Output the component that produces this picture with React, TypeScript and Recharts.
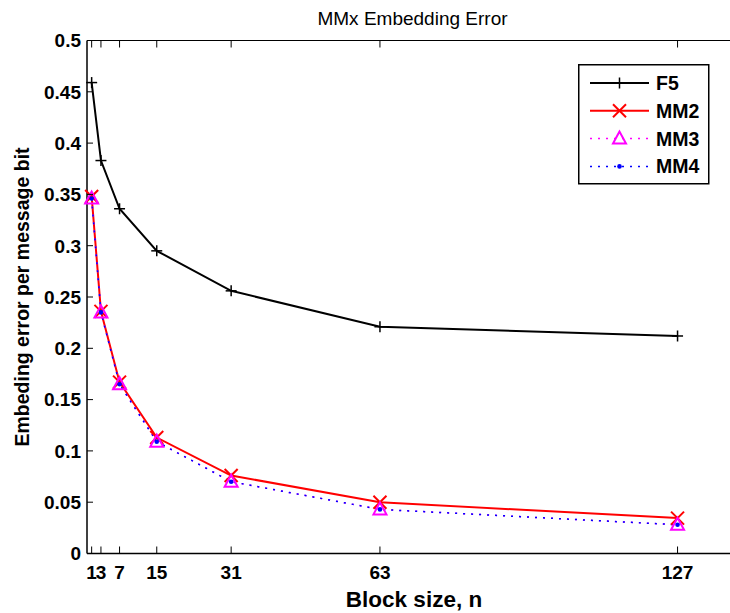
import { LineChart, Line, XAxis, YAxis, Legend } from 'recharts';

// block sizes n and embedding error per message bit for each scheme
const blockSizes = [1, 3, 7, 15, 31, 63, 127];
const f5 = [0.459, 0.383, 0.336, 0.295, 0.256, 0.221, 0.212];
const mm2 = [0.348, 0.236, 0.167, 0.113, 0.076, 0.050, 0.0345];
const mm3 = [0.346, 0.235, 0.165, 0.109, 0.070, 0.043, 0.028];
const mm4 = [0.346, 0.235, 0.165, 0.109, 0.070, 0.043, 0.028];

const xTicks = [1, 3, 7, 15, 31, 63, 127];
const yTicks = [0, 0.05, 0.1, 0.15, 0.2, 0.25, 0.3, 0.35, 0.4, 0.45, 0.5];

const data = blockSizes.map((n, i) => ({ n, f5: f5[i], mm2: mm2[i], mm3: mm3[i], mm4: mm4[i] }));

const FONT = '"Liberation Sans", Arial, Helvetica, sans-serif';

const PlusMark = ({ cx, cy, r = 5.5 }: any) => (
  <g stroke="#000" strokeWidth={1.5}>
    <line x1={cx - r} x2={cx + r} y1={cy} y2={cy} />
    <line x1={cx} x2={cx} y1={cy - r} y2={cy + r} />
  </g>
);

const CrossMark = ({ cx, cy, r = 6.5 }: any) => (
  <g stroke="#ff0000" strokeWidth={2}>
    <line x1={cx - r} x2={cx + r} y1={cy - r} y2={cy + r} />
    <line x1={cx - r} x2={cx + r} y1={cy + r} y2={cy - r} />
  </g>
);

const TriangleMark = ({ cx, cy }: any) => (
  <polygon
    points={`${cx},${cy - 7} ${cx - 6.5},${cy + 5} ${cx + 6.5},${cy + 5}`}
    fill="none"
    stroke="#ff00ff"
    strokeWidth={2}
  />
);

const DotMark = ({ cx, cy }: any) => <circle cx={cx} cy={cy} r={2.3} fill="#0000ff" />;

const BottomTick = ({ x, y, payload }: any) => (
  <g>
    <line x1={x} x2={x} y1={y} y2={y - 7} stroke="#000" strokeWidth={1} />
    <text x={x} y={y + 25} textAnchor="middle" fontFamily={FONT} fontWeight="bold" fontSize={19} fill="#000">
      {payload.value}
    </text>
  </g>
);

const TopTick = ({ x, y }: any) => (
  <line x1={x} x2={x} y1={y} y2={y + 7} stroke="#000" strokeWidth={1} />
);

const LeftTick = ({ x, y, payload }: any) => (
  <g>
    <line x1={x} x2={x + 6} y1={y} y2={y} stroke="#000" strokeWidth={1} />
    <text x={x - 6} y={y} dy="0.36em" textAnchor="end" fontFamily={FONT} fontWeight="bold" fontSize={19} fill="#000">
      {Number(payload.value.toFixed(2)).toString()}
    </text>
  </g>
);

const legendItems = [
  { name: 'F5', color: '#000', width: 2, dash: undefined, Mark: PlusMark },
  { name: 'MM2', color: '#ff0000', width: 2, dash: undefined, Mark: CrossMark },
  { name: 'MM3', color: '#ff00ff', width: 1.5, dash: '2 6', Mark: TriangleMark },
  { name: 'MM4', color: '#0000ff', width: 1.5, dash: '2 6', Mark: DotMark },
];

const LegendBox = () => (
  <svg width={132} height={121} style={{ display: 'block' }}>
    <rect x={0.75} y={0.75} width={130} height={119} fill="#fff" stroke="#000" strokeWidth={1.5} />
    {legendItems.map((item, i) => {
      const y = 19 + i * 27.8;
      const { Mark } = item;
      return (
        <g key={item.name}>
          <line x1={12} x2={71} y1={y} y2={y} stroke={item.color} strokeWidth={item.width} strokeDasharray={item.dash} />
          <Mark cx={41.5} cy={y} />
          <text x={78} y={y} dy="0.36em" fontFamily={FONT} fontWeight="bold" fontSize={19.5} fill="#000">
            {item.name}
          </text>
        </g>
      );
    })}
  </svg>
);

export default function App() {
  return (
    <div style={{ position: 'absolute', left: 0, top: 0, width: 730, height: 613, overflow: 'hidden', background: '#fff' }}>
      <LineChart width={745} height={613} data={data} margin={{ top: 30.5, right: 7, bottom: 29.5, left: 27 }}>
        <XAxis
          dataKey="n"
          type="number"
          domain={[0, 140]}
          ticks={xTicks}
          interval={0}
          height={30}
          tickSize={0}
          tickMargin={0}
          tickLine={false}
          tick={<BottomTick />}
          axisLine={{ stroke: '#000', strokeWidth: 1.5 }}
        />
        <XAxis
          xAxisId="top"
          orientation="top"
          dataKey="n"
          type="number"
          domain={[0, 140]}
          ticks={xTicks}
          interval={0}
          height={10}
          tickSize={0}
          tickMargin={0}
          tickLine={false}
          tick={<TopTick />}
          axisLine={{ stroke: '#000', strokeWidth: 1.2 }}
        />
        <YAxis
          type="number"
          domain={[0, 0.5]}
          ticks={yTicks}
          interval={0}
          width={60}
          tickSize={0}
          tickMargin={0}
          tickLine={false}
          tick={<LeftTick />}
          axisLine={{ stroke: '#000', strokeWidth: 1.5 }}
        />
        <Line
          dataKey="f5"
          type="linear"
          stroke="#000"
          strokeWidth={2}
          dot={(p: any) => <PlusMark key={`f5-${p.index}`} cx={p.cx} cy={p.cy} />}
          activeDot={false}
          isAnimationActive={false}
        />
        <Line
          dataKey="mm2"
          type="linear"
          stroke="#ff0000"
          strokeWidth={2}
          dot={(p: any) => <CrossMark key={`mm2-${p.index}`} cx={p.cx} cy={p.cy} />}
          activeDot={false}
          isAnimationActive={false}
        />
        <Line
          dataKey="mm3"
          type="linear"
          stroke="#ff00ff"
          strokeWidth={1.5}
          strokeDasharray="2 6"
          dot={(p: any) => <TriangleMark key={`mm3-${p.index}`} cx={p.cx} cy={p.cy} />}
          activeDot={false}
          isAnimationActive={false}
        />
        <Line
          dataKey="mm4"
          type="linear"
          stroke="#0000ff"
          strokeWidth={1.5}
          strokeDasharray="2 6"
          dot={(p: any) => <DotMark key={`mm4-${p.index}`} cx={p.cx} cy={p.cy} />}
          activeDot={false}
          isAnimationActive={false}
        />
        <Legend
          layout="vertical"
          align="center"
          verticalAlign="middle"
          content={() => <LegendBox />}
          wrapperStyle={{ left: 578, top: 64, width: 132, height: 121 }}
        />
        <text x={412.5} y={25} textAnchor="middle" fontFamily={FONT} fontSize={19} fill="#000">
          MMx Embedding Error
        </text>
        <text x={414} y={607} textAnchor="middle" fontFamily={FONT} fontWeight="bold" fontSize={22.5} fill="#000">
          Block size, n
        </text>
        <text
          x={0}
          y={0}
          transform="translate(29, 297) rotate(-90)"
          textAnchor="middle"
          fontFamily={FONT}
          fontWeight="bold"
          fontSize={19.5}
          fill="#000"
        >
          Embeding error per message bit
        </text>
      </LineChart>
    </div>
  );
}
